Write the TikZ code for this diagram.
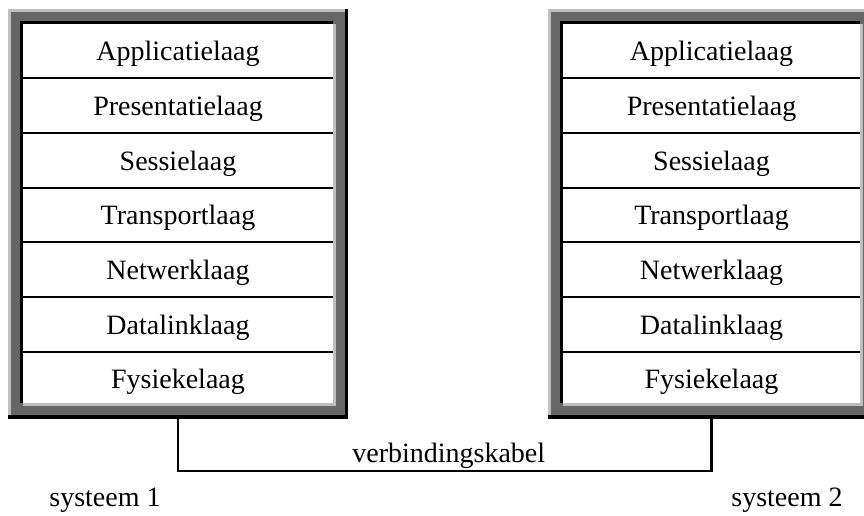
\documentclass[tikz,border=0pt]{standalone}
\usepackage{fontspec}
\setmainfont{Liberation Serif}
\usetikzlibrary{positioning,calc}

\definecolor{frame dark}{gray}{0.4}
\definecolor{frame light}{gray}{0.75}

\tikzset{
    stack/.style={
      inner sep=0pt,
      minimum height=284.25pt
    },
    layer/.style={
      inner sep=0pt,
      minimum height=40.6pt,
      text height=14.6pt,
      text depth=0pt,
      font=\fontsize{21}{25}\selectfont
    },
    divider/.style={
      draw=black,
      line width=1.5pt
    },
    cable/.style={
      draw=black,
      line width=1.6pt
    },
    caption/.style={
      font=\fontsize{21}{25}\selectfont
    }
  }

\begin{document}
\begin{tikzpicture}[x=0.75pt,y=0.75pt]
  \useasboundingbox (0,0) rectangle (864,516);

  % binnenkant van beide stapels
  \node[stack, minimum width=232.5pt] (sys1) at (178,302.5) {};
  \node[stack, minimum width=222.75pt] (sys2) at (711.5,302.5) {};

  % kabel tussen de twee systemen
  \draw[cable] (sys1.south) -- ++(0,-68) coordinate (c1)
    -- (c1 -| sys2.south) node[midway, above, caption, inner sep=1.5pt, xshift=3pt] (kabel) {verbindingskabel}
    -- (sys2.south);

  % kader met schaduwrand
  \foreach \s in {sys1,sys2} {
    \fill[black] ($(\s.north west)+(-15,15)$) rectangle ($(\s.south east)+(15,-16)$);
    \fill[frame light] ($(\s.north west)+(-15,15)$) rectangle ($(\s.south east)+(12,-12)$);
    \fill[frame dark] ($(\s.north west)+(-12,12)$) rectangle ($(\s.south east)+(12,-12)$);
    \fill[black] ($(\s.north west)+(-3,3)$) rectangle (\s.south east);
    \fill[frame light] (\s.north west) rectangle ($(\s.south east)+(3,-3)$);
    \fill[white] (\s.north west) rectangle (\s.south east);
  }

  % de zeven lagen
  \foreach \s/\w in {sys1/232.5pt, sys2/222.75pt} {
    \coordinate (\s-0) at (\s.north);
    \foreach \laag [count=\i, remember=\i as \j (initially 0)] in
        {Applicatielaag, Presentatielaag, Sessielaag, Transportlaag,
         Netwerklaag, Datalinklaag, Fysiekelaag}
      \node[layer, minimum width=\w, below=0pt of \s-\j] (\s-\i) {\laag};
    \foreach \i in {1,...,6}
      \draw[divider] (\s-\i.south west) -- (\s-\i.south east);
  }

  % namen
  \node[caption, anchor=base] (naam1) at (105,9) {systeem 1};
  \node[caption, anchor=base] (naam2) at (787,9) {systeem 2};
\end{tikzpicture}
\end{document}
